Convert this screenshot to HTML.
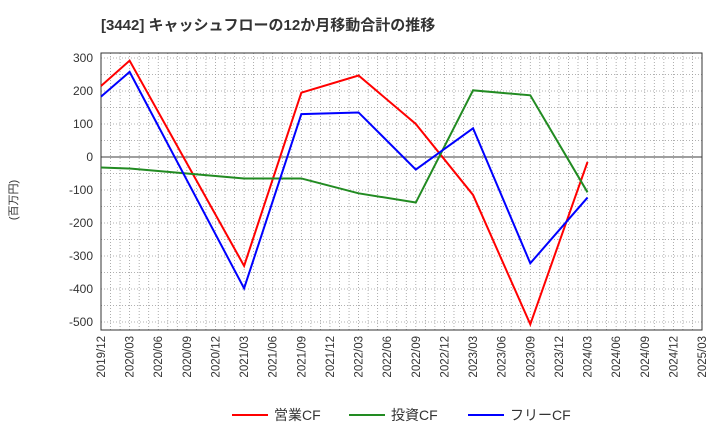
<!DOCTYPE html>
<html><head><meta charset="utf-8"><style>
body{margin:0;background:#fff;font-family:"Liberation Sans","Noto Sans CJK JP",sans-serif}
svg text{font-family:"Liberation Sans","Noto Sans CJK JP",sans-serif}
</style></head><body>
<svg id="c" width="720" height="440" xmlns="http://www.w3.org/2000/svg">
<text x="101" y="30" font-size="15" font-weight="bold" fill="#333">[3442]  キャッシュフローの12か月移動合計の推移</text>
<text transform="translate(17,200) rotate(-90)" font-size="11" fill="#333" text-anchor="middle">(百万円)</text>
<g id="grid"></g><g id="axes"></g><g id="series"></g><g id="legend"></g>
</svg>
<script>
const xLabels=["2019/12","2020/03","2020/06","2020/09","2020/12","2021/03","2021/06","2021/09","2021/12","2022/03","2022/06","2022/09","2022/12","2023/03","2023/06","2023/09","2023/12","2024/03","2024/06","2024/09","2024/12","2025/03"];
const yTicks=[300,200,100,0,-100,-200,-300,-400,-500];
const pointIdx=[0,1,5,7,9,11,13,15,17];
const opCF=[215,292,-330,195,247,100,-115,-507,-15];
const invCF=[-32,-35,-65,-65,-110,-138,202,187,-107];
const freeCF=[183,258,-398,130,135,-38,87,-322,-123];
const seriesNames=["営業CF","投資CF","フリーCF"];
const ns="http://www.w3.org/2000/svg";
const L=101,R=702,T=53,B=330;
const X=i=>L+i*(R-L)/(xLabels.length-1);
const Y=v=>157-v*0.33;
function mk(t,a,p){const e=document.createElementNS(ns,t);for(const k in a)e.setAttribute(k,a[k]);p.appendChild(e);return e;}
const g=document.getElementById('grid'),ax=document.getElementById('axes'),s=document.getElementById('series'),lg=document.getElementById('legend');
for(let m=0;m<=(xLabels.length-1)*3;m++){const x=L+m*(R-L)/((xLabels.length-1)*3);
const l=mk('line',{x1:x,x2:x,y1:T,y2:B,stroke:'#999','stroke-width':0.8,'stroke-dasharray':'1,2'},g);

}
for(let v=300;v>=-500;v-=50){const l=mk('line',{x1:L,x2:R,y1:Y(v),y2:Y(v),stroke:v===0?'#666':'#999','stroke-width':v===0?1.2:0.8,'stroke-dasharray':v===0?'':'1,2'},g);

}
const fr=mk('rect',{x:L,y:T,width:R-L,height:B-T,fill:'none',stroke:'#333','stroke-width':1},ax);


yTicks.forEach(v=>{const t=mk('text',{x:L-8,y:Y(v)+4,'font-size':12,fill:'#333','text-anchor':'end'},ax);t.textContent=v;

});
xLabels.forEach((lab,i)=>{const t=mk('text',{transform:`translate(${X(i)+4},${B+6}) rotate(-90)`,'font-size':11.5,fill:'#333','text-anchor':'end'},ax);t.textContent=lab;

});
const data=[opCF,invCF,freeCF],cols=['#ff0000','#228b22','#0000ff'],nm=['operating-cf-line','investing-cf-line','free-cf-line'];
data.forEach((d,k)=>{const p=mk('polyline',{points:d.map((v,j)=>X(pointIdx[j])+','+Y(v)).join(' '),fill:'none',stroke:cols[k],'stroke-width':2},s);

});
const lx=[232,349,468];
seriesNames.forEach((n,k)=>{const gg=mk('g',{},lg);


mk('line',{x1:lx[k],x2:lx[k]+36,y1:415,y2:415,stroke:cols[k],'stroke-width':2},gg);
const t=mk('text',{x:lx[k]+42,y:420,'font-size':14,fill:'#333'},gg);t.textContent=n;});
</script>
</body></html>
